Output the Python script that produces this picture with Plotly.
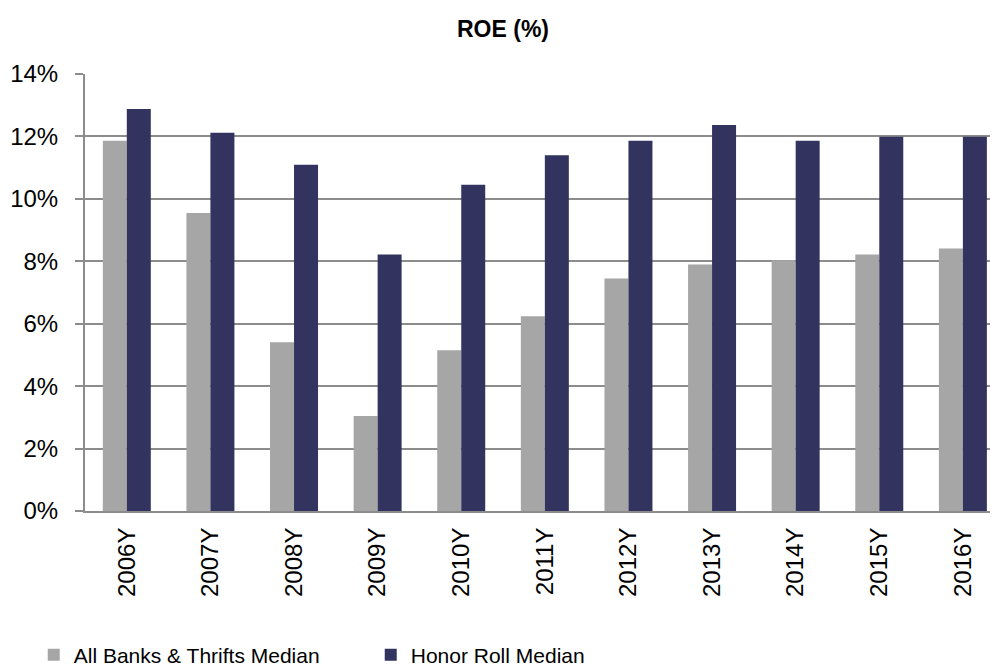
import plotly.graph_objects as go

years = ["2006Y", "2007Y", "2008Y", "2009Y", "2010Y", "2011Y",
         "2012Y", "2013Y", "2014Y", "2015Y", "2016Y"]
all_banks = [11.86, 9.55, 5.41, 3.04, 5.15, 6.24, 7.45, 7.90, 8.03, 8.22, 8.41]
honor_roll = [12.88, 12.12, 11.09, 8.22, 10.45, 11.40, 11.86, 12.37, 11.86, 11.99, 11.99]

FONT = "Liberation Sans, Arial, sans-serif"
GRID = "#8c8c8c"

# the page body adds an 8px margin, so the figure is sized 990x660
W, H = 990, 660

fig = go.Figure()
fig.add_trace(go.Bar(x=years, y=all_banks, name="All Banks & Thrifts Median",
                     marker=dict(color="#a6a6a6", line=dict(width=0))))
fig.add_trace(go.Bar(x=years, y=honor_roll, name="Honor Roll Median",
                     marker=dict(color="#32345f", line=dict(width=0))))

fig.update_layout(
    width=W, height=H,
    margin=dict(l=77, r=0, t=66, b=157),
    paper_bgcolor="white", plot_bgcolor="white",
    font=dict(family=FONT, color="black"),
    barmode="group", bargap=0.426, bargroupgap=0,
    title=dict(text="<b>ROE (%)</b>", xref="container", x=0.5, xanchor="center",
               y=1 - 21 / H, yanchor="middle", font=dict(size=23)),
    legend=dict(orientation="h", xref="container", yref="container",
                x=0.026, y=1 - 647 / H, yanchor="middle",
                font=dict(size=21), entrywidth=292, itemwidth=30,
                traceorder="normal"),
    showlegend=True,
)
fig.update_xaxes(
    range=[-0.5, 10.42], tickangle=-90, tickfont=dict(size=24),
    showline=True, linecolor=GRID, linewidth=2, ticks="",
    ticklabelstandoff=5, showgrid=False, zeroline=False,
)
fig.update_yaxes(
    range=[0, 14], dtick=2, ticksuffix="%", tickfont=dict(size=24),
    showgrid=True, gridcolor=GRID, gridwidth=2,
    showline=True, linecolor=GRID, linewidth=2,
    ticks="outside", ticklen=8, tickcolor=GRID, tickwidth=2,
    ticklabelstandoff=12, zeroline=False,
)

fig.write_html("out.html")
